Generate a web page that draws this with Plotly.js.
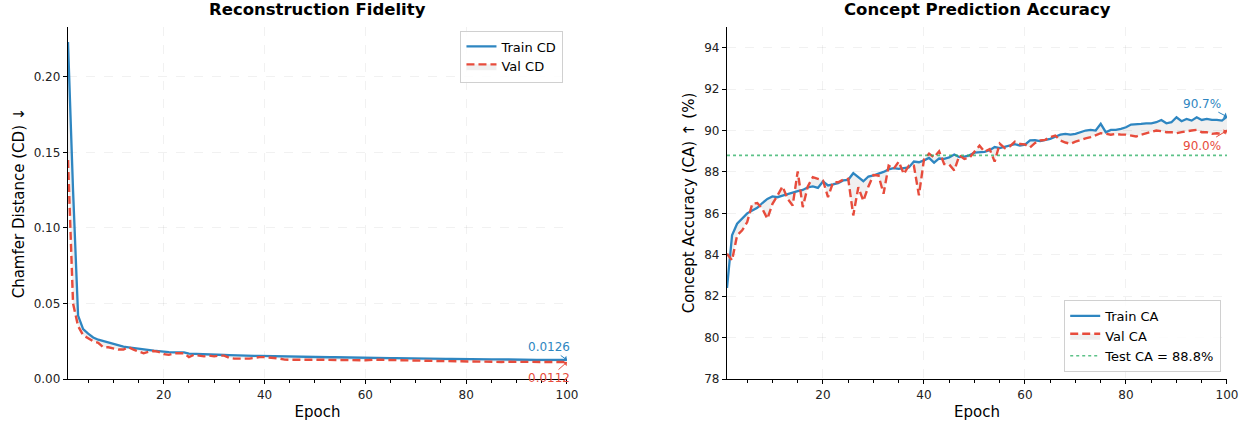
<!DOCTYPE html>
<html>
<head>
<meta charset="utf-8">
<script src="https://cdn.plot.ly/plotly-3.0.1.min.js"></script>
<style>html,body{margin:0;padding:0;background:#fff;}#chart{width:1250px;height:425px;}</style>
</head>
<body>
<div id="chart"></div>
<script>
const epochs = Array.from({length: 100}, (_, i) => i + 1);

const trainCD = [
  0.223, 0.125, 0.042, 0.033, 0.030, 0.0275, 0.026, 0.025, 0.024, 0.023,
  0.0222, 0.0215, 0.021, 0.0205, 0.020, 0.0195, 0.019, 0.0188, 0.0185, 0.018,
  0.0178, 0.0176, 0.0175, 0.0176, 0.0168, 0.0166, 0.0165, 0.0163, 0.0162, 0.0161,
  0.016, 0.0159, 0.0158, 0.0156, 0.0155, 0.0155, 0.0154, 0.0153, 0.0153, 0.0152,
  0.0151, 0.015, 0.015, 0.0149, 0.0148, 0.0148, 0.0147, 0.0147, 0.0146, 0.0146,
  0.0145, 0.0145, 0.0144, 0.0144, 0.0143, 0.0143, 0.0142, 0.0142, 0.0141, 0.0141,
  0.014, 0.014, 0.0139, 0.0139, 0.0138, 0.0138, 0.0137, 0.0137, 0.0136, 0.0136,
  0.0135, 0.0135, 0.0134, 0.0134, 0.0134, 0.0133, 0.0133, 0.0132, 0.0132, 0.0132,
  0.0131, 0.0131, 0.0131, 0.013, 0.013, 0.013, 0.0129, 0.0129, 0.0129, 0.0128,
  0.0128, 0.0128, 0.0128, 0.0127, 0.0127, 0.0127, 0.0127, 0.0126, 0.0126, 0.0126
];
const valCD = [
  0.145, 0.050, 0.035, 0.029, 0.027, 0.025, 0.024, 0.021, 0.021, 0.0205,
  0.0195, 0.0195, 0.021, 0.0195, 0.0185, 0.017, 0.018, 0.0185, 0.018, 0.0165,
  0.016, 0.017, 0.017, 0.017, 0.0145, 0.016, 0.0155, 0.015, 0.0155, 0.015,
  0.0155, 0.0155, 0.014, 0.0135, 0.0135, 0.0135, 0.0135, 0.014, 0.0145, 0.0145,
  0.0142, 0.014, 0.0135, 0.0128, 0.0127, 0.0127, 0.0128, 0.0128, 0.0127, 0.0128,
  0.0127, 0.0126, 0.0126, 0.0126, 0.0125, 0.0126, 0.0125, 0.0125, 0.0124, 0.0124,
  0.0128, 0.0128, 0.0127, 0.0126, 0.0125, 0.0126, 0.0124, 0.0123, 0.0122, 0.0122,
  0.0122, 0.0121, 0.0122, 0.0121, 0.0118, 0.0116, 0.0116, 0.0117, 0.0117, 0.0116,
  0.0116, 0.0116, 0.0115, 0.0115, 0.0115, 0.0114, 0.0113, 0.0114, 0.0114, 0.0113,
  0.0113, 0.0113, 0.0112, 0.0113, 0.0113, 0.0112, 0.0112, 0.0112, 0.0112, 0.0112
];

const trainCA = [
  82.4, 84.94, 85.5, 85.74, 86.0, 86.14, 86.27, 86.5, 86.7, 86.82,
  86.78, 86.86, 86.94, 87.02, 87.07, 87.13, 87.26, 87.3, 87.23, 87.54,
  87.35, 87.4, 87.46, 87.59, 87.62, 87.94, 87.75, 87.55, 87.78, 87.83,
  87.92, 88.0, 88.12, 88.18, 88.15, 88.2, 88.22, 88.5, 88.47, 88.56,
  88.68, 88.45, 88.65, 88.63, 88.7, 88.84, 88.72, 88.74, 88.8, 88.93,
  88.96, 88.97, 89.05, 89.2, 89.15, 89.22, 89.3, 89.34, 89.27, 89.32,
  89.52, 89.53, 89.49, 89.55, 89.6, 89.7, 89.8, 89.84, 89.8, 89.84,
  89.92, 90.0, 90.03, 90.0, 90.32, 89.92, 90.03, 90.03, 90.08, 90.16,
  90.29, 90.29, 90.32, 90.35, 90.35, 90.4, 90.51, 90.35, 90.4, 90.64,
  90.45, 90.56, 90.48, 90.64, 90.51, 90.56, 90.51, 90.51, 90.48, 90.67
];
const valCA = [
  84.05, 83.73, 84.94, 85.18, 85.58, 86.46, 86.5, 86.22, 85.74, 86.46,
  86.86, 87.3, 86.7, 86.38, 88.03, 86.3, 87.3, 87.75, 87.67, 87.59,
  86.78, 87.5, 87.5, 87.62, 87.67, 85.9, 87.26, 86.6, 87.3, 87.85,
  87.83, 86.95, 88.3, 88.15, 88.5, 87.9, 88.3, 88.3, 86.87, 88.6,
  88.88, 88.7, 89.0, 88.38, 88.36, 88.07, 88.8, 88.63, 88.68, 88.95,
  89.27, 88.98, 89.1, 88.5, 89.37, 89.15, 89.23, 89.46, 89.35, 89.33,
  89.18, 89.4, 89.52, 89.55, 89.68, 89.76, 89.52, 89.42, 89.36, 89.46,
  89.55, 89.62, 89.68, 89.78, 89.87, 89.84, 89.8, 89.84, 89.8, 89.8,
  89.76, 89.71, 89.8, 89.87, 89.92, 90.0, 89.97, 89.92, 89.92, 89.87,
  89.92, 89.97, 90.0, 90.03, 89.92, 89.92, 89.84, 89.87, 89.84, 90.0
];
const testCA = 88.8;

const BLUE = '#2e86c1';
const RED = '#e74c3c';
const GREEN = 'rgba(39,174,96,0.75)';
const FILL = 'rgba(128,128,128,0.12)';
const FONT = 'DejaVu Sans, sans-serif';

const lastE = epochs[epochs.length - 1];
const lastTrainCD = trainCD[trainCD.length - 1];
const lastValCD = valCD[valCD.length - 1];
const lastTrainCA = trainCA[trainCA.length - 1];
const lastValCA = valCA[valCA.length - 1];

const traces = [
  {x: epochs, y: trainCD, xaxis: 'x', yaxis: 'y', type: 'scatter', mode: 'lines', name: 'Train CD',
   line: {color: BLUE, width: 2.3}, legend: 'legend'},
  {x: epochs, y: valCD, xaxis: 'x', yaxis: 'y', type: 'scatter', mode: 'lines', name: 'Val CD',
   line: {color: RED, width: 2.4, dash: '8px,4px'}, fill: 'tonexty', fillcolor: FILL, legend: 'legend'},
  {x: epochs, y: trainCA, xaxis: 'x2', yaxis: 'y2', type: 'scatter', mode: 'lines', name: 'Train CA',
   line: {color: BLUE, width: 2.3}, legend: 'legend2'},
  {x: epochs, y: valCA, xaxis: 'x2', yaxis: 'y2', type: 'scatter', mode: 'lines', name: 'Val CA',
   line: {color: RED, width: 2.4, dash: '8px,4px'}, fill: 'tonexty', fillcolor: FILL, legend: 'legend2'},
  {x: [epochs[0], lastE], y: [testCA, testCA], xaxis: 'x2', yaxis: 'y2', type: 'scatter', mode: 'lines',
   name: 'Test CA = ' + testCA.toFixed(1) + '%', line: {color: GREEN, width: 1.6, dash: 'dot'}, legend: 'legend2'}
];

const axisCommon = {
  showline: true, linecolor: '#000', linewidth: 1.2, mirror: false,
  ticks: 'outside', ticklen: 4, tickwidth: 1, tickcolor: '#000',
  showgrid: true, gridcolor: 'rgba(0,0,0,0.07)', griddash: 'dash', gridwidth: 0.8,
  zeroline: false, tickfont: {family: FONT, size: 12, color: '#222'}
};
const minorTicks = {tickvals: [5,10,15,25,30,35,45,50,55,65,70,75,85,90,95], ticks: 'outside', ticklen: 2.5, tickcolor: '#000', showgrid: false};

const layout = {
  width: 1250, height: 425,
  paper_bgcolor: '#fff', plot_bgcolor: '#fff',
  margin: {l: 68, r: 23, t: 27, b: 46},
  font: {family: FONT, color: '#000'},
  showlegend: true,
  xaxis: Object.assign({}, axisCommon, {
    domain: [0, 0.4305], range: [1, 100], tickvals: [20, 40, 60, 80, 100], minor: minorTicks,
    title: {text: 'Epoch', font: {family: FONT, size: 15}, standoff: 6}
  }),
  yaxis: Object.assign({}, axisCommon, {
    range: [0, 0.233], tickvals: [0, 0.05, 0.10, 0.15, 0.20], tickformat: '.2f',
    title: {text: 'Chamfer Distance (CD) ↓', font: {family: FONT, size: 15}, standoff: 5}
  }),
  xaxis2: Object.assign({}, axisCommon, {
    domain: [0.5686, 1], range: [1, 100], tickvals: [20, 40, 60, 80, 100], anchor: 'y2', minor: minorTicks,
    title: {text: 'Epoch', font: {family: FONT, size: 15}, standoff: 6}
  }),
  yaxis2: Object.assign({}, axisCommon, {
    range: [78, 95], tickvals: [78, 80, 82, 84, 86, 88, 90, 92, 94], anchor: 'x2',
    title: {text: 'Concept Accuracy (CA) ↑ (%)', font: {family: FONT, size: 15}, standoff: 5}
  }),
  legend: {
    x: 0.4275, y: 0.99, xref: 'paper', yref: 'paper', xanchor: 'right', yanchor: 'top',
    bgcolor: 'rgba(255,255,255,0.85)', bordercolor: '#d0d0d0', borderwidth: 1, traceorder: 'normal',
    font: {family: FONT, size: 13}, itemwidth: 30
  },
  legend2: {
    x: 0.995, y: 0.02, xref: 'paper', yref: 'paper', xanchor: 'right', yanchor: 'bottom',
    bgcolor: 'rgba(255,255,255,0.85)', bordercolor: '#d0d0d0', borderwidth: 1, traceorder: 'normal',
    font: {family: FONT, size: 13}, itemwidth: 30
  },
  annotations: [
    {text: '<b>Reconstruction Fidelity</b>', xref: 'x domain', yref: 'paper', x: 0.5, y: 1.0, yshift: 6,
     xanchor: 'center', yanchor: 'bottom', showarrow: false, font: {family: FONT, size: 16.5, color: '#000'}},
    {text: '<b>Concept Prediction Accuracy</b>', xref: 'x2 domain', yref: 'paper', x: 0.5, y: 1.0, yshift: 6,
     xanchor: 'center', yanchor: 'bottom', showarrow: false, font: {family: FONT, size: 16.5, color: '#000'}},
    {text: lastTrainCD.toFixed(4), x: lastE, y: lastTrainCD, xref: 'x', yref: 'y', showarrow: true,
     ax: -18, ay: -13, arrowhead: 1, arrowsize: 1, arrowwidth: 1, arrowcolor: BLUE, standoff: 0,
     font: {family: FONT, size: 12, color: BLUE}},
    {text: lastValCD.toFixed(4), x: lastE, y: lastValCD, xref: 'x', yref: 'y', showarrow: true,
     ax: -18, ay: 16, arrowhead: 1, arrowsize: 1, arrowwidth: 1, arrowcolor: RED, standoff: 0,
     font: {family: FONT, size: 12, color: RED}},
    {text: lastTrainCA.toFixed(1) + '%', x: lastE, y: lastTrainCA, xref: 'x2', yref: 'y2', showarrow: true,
     ax: -25, ay: -13, arrowhead: 1, arrowsize: 1, arrowwidth: 1, arrowcolor: BLUE, standoff: 0,
     font: {family: FONT, size: 12, color: BLUE}},
    {text: lastValCA.toFixed(1) + '%', x: lastE, y: lastValCA, xref: 'x2', yref: 'y2', showarrow: true,
     ax: -25, ay: 15, arrowhead: 1, arrowsize: 1, arrowwidth: 1, arrowcolor: RED, standoff: 0,
     font: {family: FONT, size: 12, color: RED}}
  ]
};

Plotly.newPlot('chart', traces, layout, {staticPlot: true, displayModeBar: false});
</script>
</body>
</html>
